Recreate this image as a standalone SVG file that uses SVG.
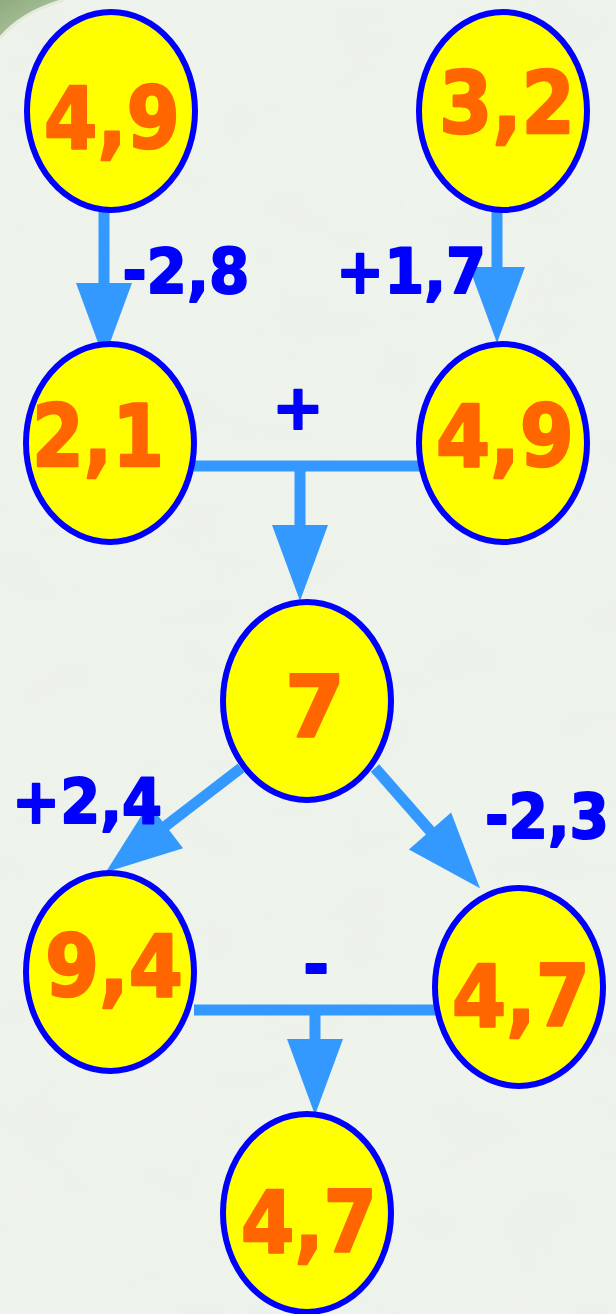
<svg xmlns="http://www.w3.org/2000/svg" xmlns:xlink="http://www.w3.org/1999/xlink" width="616" height="1314" viewBox="0 0 616 1314">
  <style>
    .node ellipse { fill: #FFFF00; stroke: #0000FF; stroke-width: 6; }
    .node text { font-family: "DejaVu Sans", Verdana, sans-serif; font-weight: bold; font-size: 86px; fill: #FF6600; stroke: #FF6600; stroke-width: 2.5; stroke-linejoin: round; text-anchor: middle; }
    .lbl { font-family: "DejaVu Sans", Verdana, sans-serif; font-weight: bold; font-size: 62px; fill: #0000FF; stroke: #0000FF; stroke-width: 2; stroke-linejoin: round; text-anchor: middle; }
    .shaft { stroke: #3399FF; stroke-width: 11; fill: none; stroke-linecap: butt; }
    .head { fill: #3399FF; }
  </style>
  <defs>
    <path id="head" d="M-28,0 L28,0 L0,76 Z"/>
    <linearGradient id="corner" x1="0" y1="0" x2="1" y2="1">
      <stop offset="0" stop-color="#8EAB7C"/>
      <stop offset="1" stop-color="#BCD0AC"/>
    </linearGradient>
    <filter id="tex" x="0" y="0" width="100%" height="100%">
      <feTurbulence type="fractalNoise" baseFrequency="0.012 0.02" numOctaves="3" seed="4"/>
      <feColorMatrix type="matrix" values="0 0 0 0 0.80  0 0 0 0 0.84  0 0 0 0 0.78  0 0 0 -1.6 1.0"/>
    </filter>
  </defs>

  <g id="background">
    <rect x="0" y="0" width="616" height="1314" fill="#EEF3EC"/>
    <rect x="0" y="0" width="616" height="1314" filter="url(#tex)" opacity="0.35"/>
    <path d="M0,0 L64,0 Q22,12 0,38 Z" fill="url(#corner)"/>
    <path d="M64,0 Q22,12 0,38" fill="none" stroke="#E4EBDD" stroke-width="3"/>
  </g>

  <g id="connectors">
    <line class="shaft" x1="104" y1="209" x2="104" y2="286"/>
    <use href="#head" class="head" transform="translate(104,283)"/>
    <line class="shaft" x1="497" y1="209" x2="497" y2="270"/>
    <use href="#head" class="head" transform="translate(497,267)"/>

    <line class="shaft" x1="194" y1="466" x2="435" y2="466"/>
    <line class="shaft" x1="300" y1="466" x2="300" y2="527"/>
    <use href="#head" class="head" transform="translate(300,525)"/>

    <line class="shaft" x1="241" y1="768" x2="163" y2="828"/>
    <use href="#head" class="head" transform="translate(166,826) rotate(52.4)"/>
    <line class="shaft" x1="375" y1="768" x2="432" y2="833"/>
    <use href="#head" class="head" transform="translate(430,831) rotate(-41.1)"/>

    <line class="shaft" x1="194" y1="1010" x2="436" y2="1010"/>
    <line class="shaft" x1="315" y1="1010" x2="315" y2="1042"/>
    <use href="#head" class="head" transform="translate(315,1039)"/>
  </g>

  <g id="labels">
    <text class="lbl" x="186" y="293" textLength="127" lengthAdjust="spacingAndGlyphs">-2,8</text>
    <text class="lbl" x="411" y="293" textLength="150" lengthAdjust="spacingAndGlyphs">+1,7</text>
    <text class="lbl" x="298" y="429">+</text>
    <text class="lbl" x="87" y="823" textLength="150" lengthAdjust="spacingAndGlyphs">+2,4</text>
    <text class="lbl" x="547" y="838" textLength="124" lengthAdjust="spacingAndGlyphs">-2,3</text>
    <text class="lbl" x="316" y="987">-</text>
  </g>

  <g id="n1" class="node">
    <ellipse cx="111" cy="111" rx="84" ry="99"/>
    <text x="112" y="148" textLength="136" lengthAdjust="spacingAndGlyphs">4,9</text>
  </g>
  <g id="n2" class="node">
    <ellipse cx="503" cy="111" rx="84" ry="99"/>
    <text x="507" y="133" textLength="136" lengthAdjust="spacingAndGlyphs">3,2</text>
  </g>
  <g id="n3" class="node">
    <ellipse cx="110" cy="443" rx="84" ry="99"/>
    <text x="98" y="466" textLength="132" lengthAdjust="spacingAndGlyphs">2,1</text>
  </g>
  <g id="n4" class="node">
    <ellipse cx="503" cy="443" rx="84" ry="99"/>
    <text x="505" y="466" textLength="138" lengthAdjust="spacingAndGlyphs">4,9</text>
  </g>
  <g id="n5" class="node">
    <ellipse cx="307" cy="701" rx="84" ry="99"/>
    <text x="315" y="737">7</text>
  </g>
  <g id="n6" class="node">
    <ellipse cx="110" cy="972" rx="84" ry="99"/>
    <text x="114" y="996" textLength="138" lengthAdjust="spacingAndGlyphs">9,4</text>
  </g>
  <g id="n7" class="node">
    <ellipse cx="519" cy="987" rx="84" ry="99"/>
    <text x="521" y="1026" textLength="138" lengthAdjust="spacingAndGlyphs">4,7</text>
  </g>
  <g id="n8" class="node">
    <ellipse cx="307" cy="1213" rx="84" ry="99"/>
    <text x="309" y="1252" textLength="136" lengthAdjust="spacingAndGlyphs">4,7</text>
  </g>
</svg>
